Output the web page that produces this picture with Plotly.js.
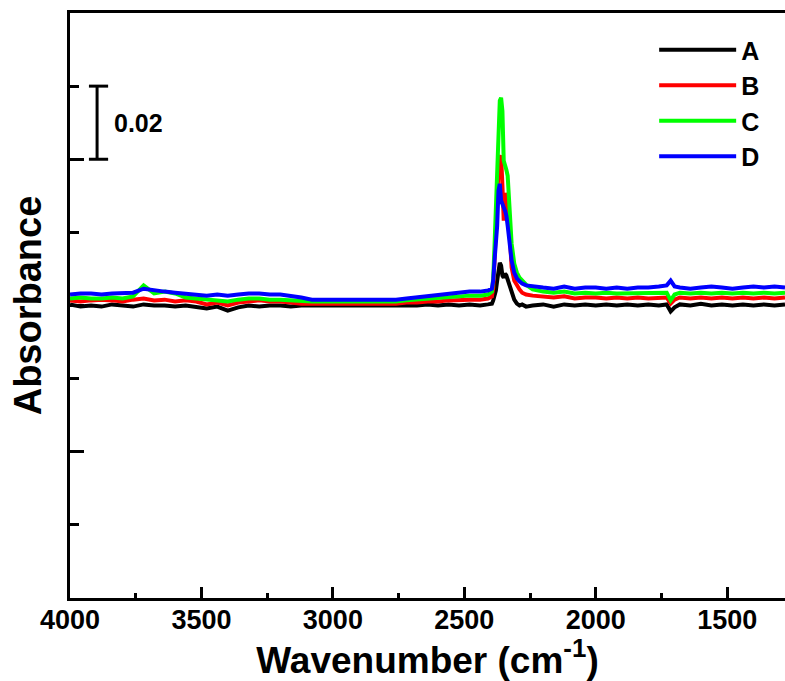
<!DOCTYPE html>
<html>
<head>
<meta charset="utf-8">
<script src="https://cdn.plot.ly/plotly-3.0.1.min.js"></script>
<style>html,body{margin:0;padding:0;background:#fff}#chart{width:785px;height:681px}</style>
</head>
<body>
<div id="chart"></div>
<script>
const wavenumber = [4000,3960,3920,3880,3840,3800,3760,3720,3680,3640,3600,3560,3520,3480,3440,3400,3360,3320,3280,3240,3200,3160,3120,3080,3040,3000,2960,2920,2880,2840,2800,2760,2720,2680,2640,2600,2560,2520,2480,2440,2410,
 2395,2390,2385,2380,2375,2370,2365,2360,2355,2350,2345,2340,2335,2330,2325,2320,2310,2300,2290,2280,2265,
 2240,2200,2160,2120,2080,2040,2000,1960,1920,1880,1840,1800,1760,1730,1715,1700,1680,1640,1600,1560,1520,1480,1440,1400,1360,1320,1280];

const seriesNames = ["A","B","C","D"];
const seriesColors = ["#000000","#ff0000","#00ff00","#0000ff"];

const absA = [0.0003,-0.0003,0,-0.0003,0.0003,0,-0.0003,0.0003,0,0,-0.0003,0,-0.0003,-0.0008,-0.0003,-0.0014,-0.0005,0,-0.0003,0,0,-0.0003,0,0,0,0,0,0,0,0,0,0,0,0,0.0003,0,0.0003,0,0.0003,0,0.0003,
 0.0005,0.0014,0.0027,0.0041,0.0068,0.0104,0.0117,0.0109,0.0082,0.0076,0.0087,0.0082,0.0071,0.0060,0.0049,0.0033,0.0016,0.0005,0,0.0003,-0.0003,
 0,0.0003,-0.0003,0.0003,0,0.0003,0,0.0003,0,0.0003,0,0.0003,0,0.0003,-0.0016,-0.0005,0.0003,0,0.0005,0,0.0003,0,0.0003,0,0.0003,0,0.0003];

const absB = [0.0014,0.0011,0.0014,0.0016,0.0014,0.0011,0.0016,0.0019,0.0014,0.0016,0.0011,0.0014,0.0011,0.0003,0.0008,0,0.0008,0.0011,0.0014,0.0011,0.0011,0.0008,0.0005,0.0005,0.0005,0.0005,0.0005,0.0005,0.0005,0.0005,0.0005,0.0005,0.0008,0.0008,0.0011,0.0011,0.0014,0.0016,0.0016,0.0016,0.0019,
 0.0025,0.0049,0.0123,0.0218,0.0300,0.0369,0.0404,0.0410,0.0328,0.0232,0.0273,0.0308,0.0287,0.0218,0.0150,0.0104,0.0068,0.0055,0.0044,0.0035,0.0030,
 0.0027,0.0025,0.0022,0.0025,0.0019,0.0022,0.0022,0.0019,0.0022,0.0019,0.0022,0.0019,0.0022,0.0022,0.0005,0.0016,0.0022,0.0019,0.0022,0.0019,0.0022,0.0019,0.0022,0.0019,0.0022,0.0019,0.0022];

const absC = [0.0019,0.0022,0.0019,0.0019,0.0022,0.0019,0.0025,0.0055,0.0033,0.0038,0.0033,0.0022,0.0019,0.0016,0.0014,0.0011,0.0016,0.0019,0.0019,0.0016,0.0016,0.0014,0.0011,0.0011,0.0011,0.0011,0.0011,0.0011,0.0011,0.0011,0.0011,0.0011,0.0014,0.0016,0.0019,0.0022,0.0022,0.0025,0.0027,0.0027,0.0030,
 0.0038,0.0074,0.0164,0.0259,0.0328,0.0478,0.0560,0.0568,0.0532,0.0396,0.0377,0.0371,0.0355,0.0300,0.0213,0.0169,0.0115,0.0090,0.0076,0.0068,0.0057,
 0.0044,0.0038,0.0035,0.0038,0.0033,0.0035,0.0033,0.0035,0.0033,0.0033,0.0035,0.0033,0.0035,0.0035,0.0014,0.0030,0.0035,0.0033,0.0035,0.0033,0.0035,0.0033,0.0035,0.0033,0.0035,0.0033,0.0035];

const absD = [0.0030,0.0033,0.0033,0.0030,0.0033,0.0033,0.0035,0.0046,0.0041,0.0038,0.0035,0.0033,0.0030,0.0027,0.0030,0.0027,0.0030,0.0033,0.0033,0.0030,0.0030,0.0027,0.0022,0.0016,0.0016,0.0016,0.0016,0.0016,0.0016,0.0016,0.0016,0.0016,0.0019,0.0022,0.0027,0.0030,0.0033,0.0035,0.0038,0.0038,0.0041,
 0.0046,0.0068,0.0123,0.0177,0.0218,0.0314,0.0333,0.0287,0.0273,0.0268,0.0259,0.0246,0.0218,0.0186,0.0158,0.0123,0.0090,0.0074,0.0066,0.0060,0.0055,
 0.0052,0.0049,0.0046,0.0052,0.0046,0.0049,0.0049,0.0046,0.0049,0.0046,0.0049,0.0049,0.0052,0.0055,0.0068,0.0052,0.0049,0.0046,0.0049,0.0052,0.0049,0.0046,0.0049,0.0052,0.0049,0.0052,0.0049];

const xTickVals = [4000,3500,3000,2500,2000,1500];
const xTickText = ["4000","3500","3000","2500","2000","1500"];
const scaleBarLabel = "0.02";
const scaleBarLow = 0.04, scaleBarHigh = 0.06;

const allSeries = [absA, absB, absC, absD];
const FONT = "Liberation Sans, Arial, sans-serif";

const traces = allSeries.map((ys, i) => ({
  type: "scatter", mode: "lines", name: seriesNames[i],
  x: wavenumber, y: ys,
  line: {color: seriesColors[i], width: 4}
}));

const layout = {
  width: 785, height: 681,
  margin: {l: 70, r: 0, t: 13, b: 83},
  paper_bgcolor: "#fff", plot_bgcolor: "#fff",
  font: {family: FONT, color: "#000"},
  showlegend: true,
  legend: {x: 0.817, y: 0.976, xanchor: "left", yanchor: "top", itemwidth: 77,
    font: {family: FONT, size: 25, weight: "bold", color: "#000"}, bgcolor: "rgba(0,0,0,0)", borderwidth: 0},
  xaxis: {
    range: [4000, 1280], tickvals: xTickVals, ticktext: xTickText,
    ticks: "inside", ticklen: 11, tickwidth: 3, tickcolor: "#000",
    minor: {dtick: 250, tick0: 0, ticks: "inside", ticklen: 5, tickwidth: 3, tickcolor: "#000"},
    showline: true, linewidth: 3, linecolor: "#000", mirror: true,
    showgrid: false, zeroline: false, ticklabelstandoff: -4,
    tickfont: {family: FONT, size: 27, weight: "bold", color: "#000"},
    title: {text: "Wavenumber (cm<sup>-1</sup>)", font: {family: FONT, size: 37, weight: "bold", color: "#000"}, standoff: 2}
  },
  yaxis: {
    range: [-0.08, 0.08], dtick: 0.04, tick0: 0, showticklabels: false,
    ticks: "inside", ticklen: 14, tickwidth: 3, tickcolor: "#000",
    minor: {dtick: 0.02, tick0: 0, ticks: "inside", ticklen: 9, tickwidth: 3, tickcolor: "#000"},
    showline: true, linewidth: 3, linecolor: "#000", mirror: false,
    showgrid: false, zeroline: false,
    title: {text: "Absorbance", font: {family: FONT, size: 38, weight: "bold", color: "#000"}, standoff: 14}
  },
  shapes: [
    {type: "line", xref: "x", yref: "y", x0: 3897, x1: 3897, y0: scaleBarLow, y1: scaleBarHigh, line: {color: "#000", width: 3}},
    {type: "line", xref: "x", yref: "y", x0: 3928, x1: 3855, y0: scaleBarLow, y1: scaleBarLow, line: {color: "#000", width: 3}},
    {type: "line", xref: "x", yref: "y", x0: 3928, x1: 3855, y0: scaleBarHigh, y1: scaleBarHigh, line: {color: "#000", width: 3}}
  ],
  annotations: [
    {xref: "x", yref: "y", x: 3840, y: (scaleBarLow + scaleBarHigh) / 2, text: scaleBarLabel, showarrow: false,
     xanchor: "left", yanchor: "middle", font: {family: FONT, size: 25, weight: "bold", color: "#000"}}
  ]
};

Plotly.newPlot("chart", traces, layout, {displayModeBar: false, staticPlot: true});
</script>
</body>
</html>
